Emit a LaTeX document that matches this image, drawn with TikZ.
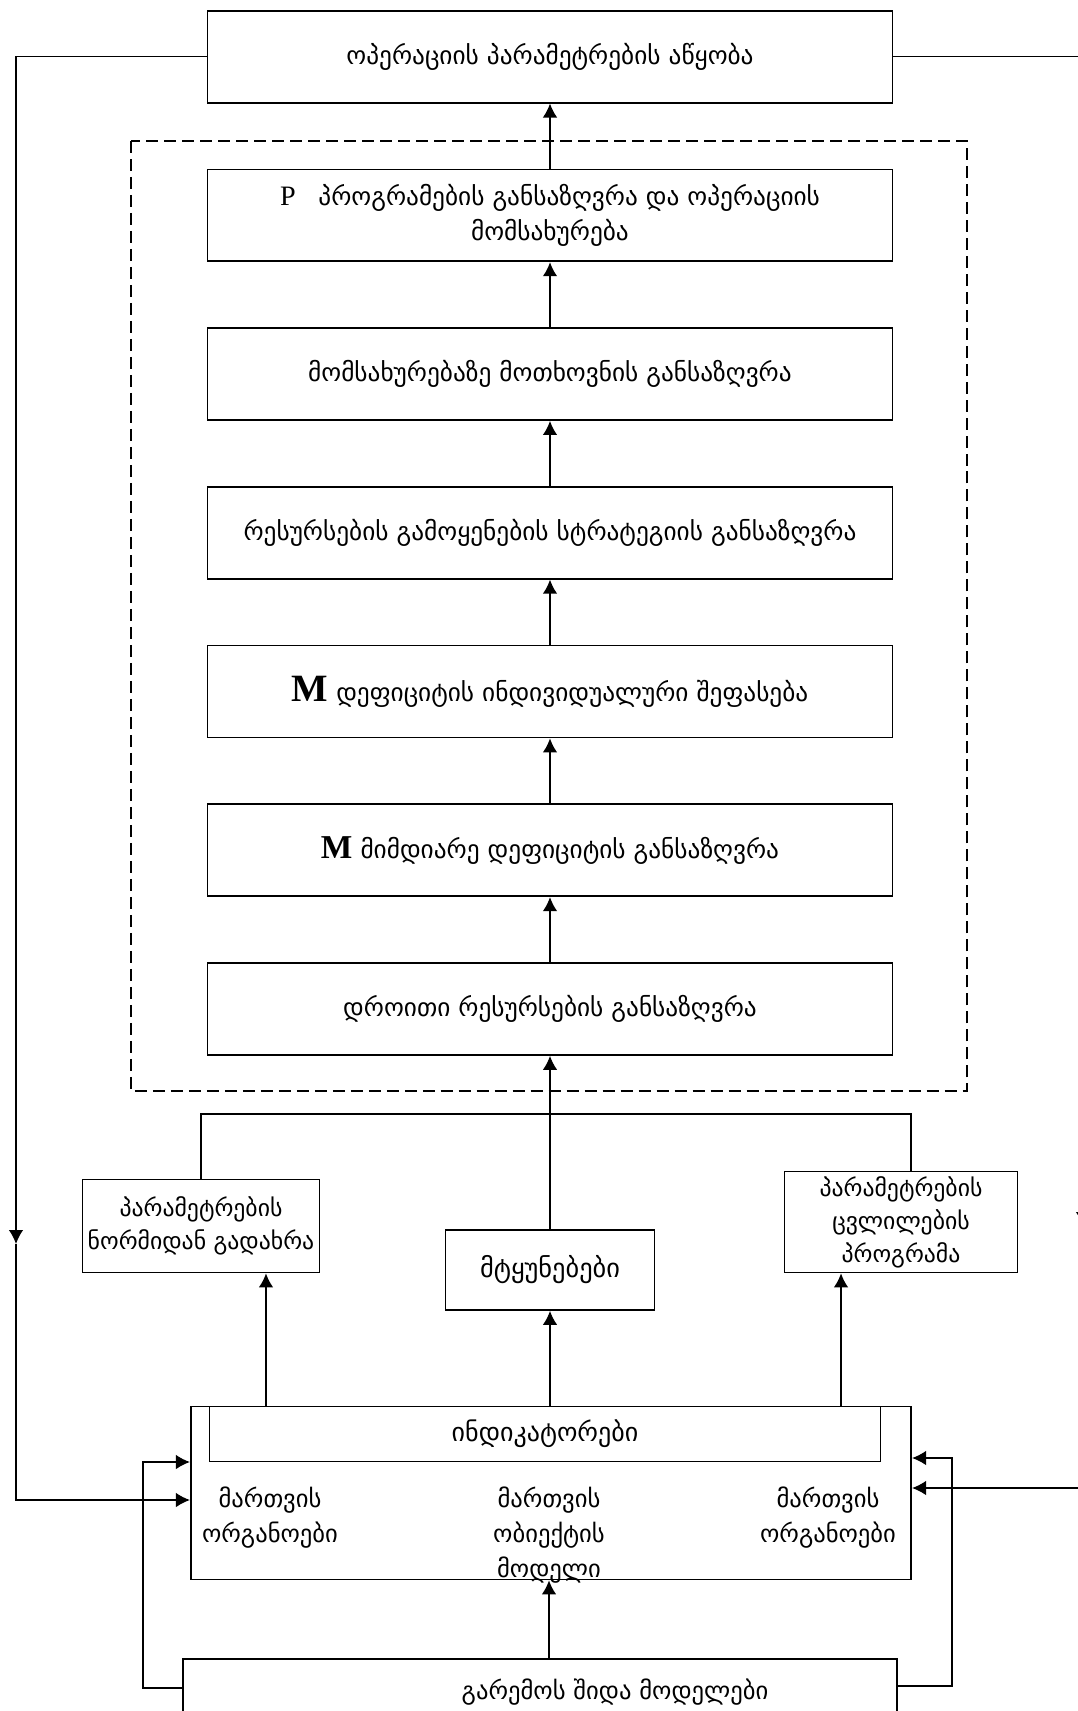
\documentclass[tikz,border=0pt]{standalone}
\usepackage{fontspec}
\setmainfont{DejaVu Sans}
\newfontfamily\latfont{Liberation Serif}
\usetikzlibrary{arrows.meta,positioning}

\begin{document}
\begin{tikzpicture}[
   x=0.02cm,y=-0.02cm,
   node distance=1.3cm,
   txt/.style={align=center,font=\fontsize{14}{20}\selectfont},
   box/.style={draw,txt,font=\fontsize{14.4}{20}\selectfont,line width=1pt,
               minimum width=13.7cm,minimum height=1.84cm,inner sep=3pt},
   small/.style={draw,txt,font=\fontsize{13.5}{18.7}\selectfont,line width=1pt,inner sep=2pt},
   line width=0.8pt,
   >={Latex[length=2.8mm,width=2.9mm]}]
  \useasboundingbox (0,0) rectangle (1078,1711);
  \clip (0,0) rectangle (1078,1711);
  % chain of steps inside the dashed frame
  \node[box] (time) at (550,1009) {დროითი რესურსების განსაზღვრა};
  \node[box,above=of time] (curr) {{\latfont\bfseries\fontsize{19}{20}\selectfont M} მიმდიარე დეფიციტის განსაზღვრა};
  \node[box,above=of curr] (indiv) {{\latfont\bfseries\fontsize{22}{20}\selectfont M} დეფიციტის ინდივიდუალური შეფასება};
  \node[box,above=of indiv] (strat) {რესურსების გამოყენების სტრატეგიის განსაზღვრა};
  \node[box,above=of strat] (serv) {მომსახურებაზე მოთხოვნის განსაზღვრა};
  \node[box,above=of serv] (prog) {{\latfont\fontsize{16}{20}\selectfont P}\hspace{0.9em}პროგრამების განსაზღვრა და ოპერაციის\\მომსახურება};
  \node[box,above=of prog] (tune) {ოპერაციის პარამეტრების აწყობა};
  \draw[dashed,dash pattern=on 2.4mm off 1.2mm] (131,141) rectangle (967,1091);
  \foreach \a/\b in {time/curr,curr/indiv,indiv/strat,strat/serv,serv/prog,prog/tune}
    \draw[->] (\a) -- (\b);

  % middle row
  \node[small,minimum width=4.74cm,minimum height=1.86cm] (dev) at (201,1226) {პარამეტრების\\ნორმიდან გადახრა};
  \node[small,font=\fontsize{15}{20}\selectfont,minimum width=4.18cm,minimum height=1.6cm] (sig) at (550,1270) {მტყუნებები};
  \node[small,minimum width=4.66cm,minimum height=2.02cm] (chg) at (901,1222) {პარამეტრების\\ცვლილების\\პროგრამა};
  \coordinate (bus) at (550,1114);
  \draw (dev.north) |- (bus) -| ([xshift=0.2cm]chg.north);
  \draw[->] (sig) -- (time);

  % object model
  \node[draw,line width=1pt,minimum width=14.41cm,minimum height=3.46cm] (model) at (551,1493) {};
  \node[draw,txt,font=\fontsize{14.8}{20}\selectfont,line width=1pt,minimum width=13.42cm,minimum height=1.1cm] (ind) at (545,1434) {ინდიკატორები};
  \node[txt,anchor=north] (orgl) at (270,1480) {მართვის\\ორგანოები};
  \node[txt,anchor=north] (obj) at (549,1480) {მართვის\\ობიექტის\\მოდელი};
  \node[txt,anchor=north] (orgr) at (828,1480) {მართვის\\ორგანოები};
  \coordinate (devin) at ([xshift=1.3cm]dev.south);
  \coordinate (chgin) at ([xshift=-1.2cm]chg.south);
  \draw[->] (devin |- model.north) -- (devin);
  \draw[->] (sig.south |- model.north) -- (sig);
  \draw[->] (chgin |- model.north) -- (chgin);

  % environment
  \node[draw,line width=1pt,minimum width=14.28cm,minimum height=1.6cm] (env) at (540,1699) {};
  \node[txt] (envtxt) at (615,1692) {გარემოს შიდა მოდელები};
  \draw[->] (obj |- env.north) -- (obj |- model.south);

  % feedback loops
  \coordinate (lmid) at (16,1244);
  \coordinate (lin) at (16,1500);
  \coordinate (rmid) at (1083,1226);
  \coordinate (rin) at (1083,1488);
  \coordinate (lret) at (143,1462);
  \coordinate (rret) at (952,1458);
  \draw[->] (tune.west) -| (lmid);
  \draw[->] (lmid) |- (lin -| model.west);
  \draw[->] (tune.east) -| (rmid);
  \draw[->] (rmid) |- (rin -| model.east);
  \draw[->] ([yshift=0.22cm]env.west) -| (lret) -- (lret -| model.west);
  \draw[->] ([yshift=0.26cm]env.east) -| (rret) -- (rret -| model.east);
\end{tikzpicture}
\end{document}
